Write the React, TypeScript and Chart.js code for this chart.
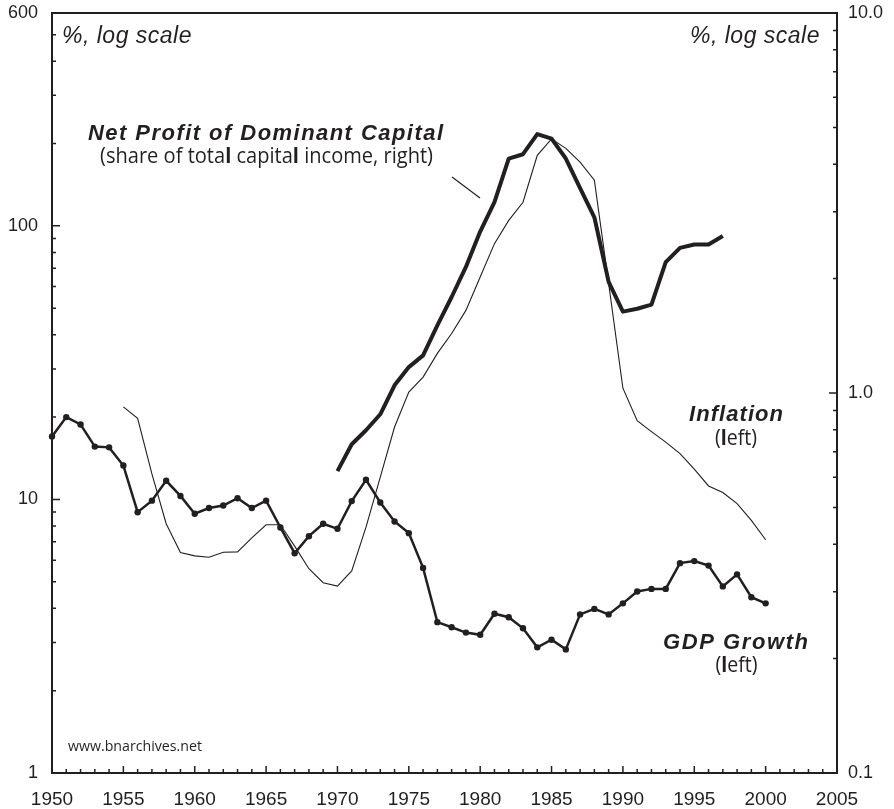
import React, { useEffect, useRef } from 'react';
import { Chart, registerables } from 'chart.js';

Chart.register(...registerables);

const INK = '#231f20';

// ---- data ----
const gdpStartYear = 1950;
const gdpGrowth = [
  17.0, 20.0, 18.8, 15.6, 15.5, 13.3, 8.98, 9.9, 11.7, 10.3,
  8.87, 9.3, 9.5, 10.1, 9.3, 9.9, 7.9, 6.36, 7.34, 8.15,
  7.81, 9.86, 11.8, 9.75, 8.31, 7.53, 5.62, 3.56, 3.41, 3.26,
  3.2, 3.82, 3.71, 3.38, 2.88, 3.07, 2.83, 3.8, 3.98, 3.8,
  4.17, 4.61, 4.71, 4.71, 5.85, 5.95, 5.73, 4.81, 5.32, 4.39, 4.17,
];

const inflationStartYear = 1955;
const inflation = [
  21.8, 19.8, 12.4, 8.15, 6.4,
  6.22, 6.15, 6.41, 6.43, 7.24, 8.08, 8.08, 6.75, 5.58, 4.96,
  4.82, 5.48, 7.92, 12.07, 18.4, 24.7, 28.0, 34.2, 40.4, 49.1,
  65.0, 86.1, 104.7, 122, 181, 208, 192, 171, 147, 61.6,
  25.5, 19.4, 17.7, 16.2, 14.7, 12.9, 11.2, 10.6, 9.65, 8.38, 7.12,
];

const profitStartYear = 1970;
const netProfitShare = [
  0.623, 0.733, 0.798, 0.879, 1.048, 1.17, 1.256, 1.507, 1.789, 2.146,
  2.66, 3.18, 4.14, 4.25, 4.8, 4.67, 4.14, 3.46, 2.9, 1.96,
  1.637, 1.666, 1.708, 2.21, 2.41, 2.46, 2.46, 2.59,
];

const xMin = 1950;
const xMax = 2005;
const leftMin = 1;
const leftMax = 600;
const rightMin = 0.1;
const rightMax = 10;
const leftTickValues = [
  1, 2, 3, 4, 5, 6, 7, 8, 9,
  10, 20, 30, 40, 50, 60, 70, 80, 90,
  100, 200, 300, 400, 500, 600,
];
const leftLabelValues = [1, 10, 100, 600];
const rightTickValues = [
  0.1, 0.2, 0.3, 0.4, 0.5, 0.6, 0.7, 0.8, 0.9,
  1, 2, 3, 4, 5, 6, 7, 8, 9, 10,
];
const rightLabelValues = [0.1, 1, 10];
const rightLabelTexts = ['0.1', '1.0', '10.0'];

const toPoints = (start: number, vals: number[]) =>
  vals.map((v, i) => ({ x: start + i, y: v }));

const isIn = (v: number, arr: number[]) => arr.some((a) => Math.abs(a - v) < 1e-9);

// ---- text helpers ----
function drawSpaced(ctx: CanvasRenderingContext2D, text: string, cx: number, y: number, font: string, target: number) {
  ctx.save();
  ctx.font = font;
  (ctx as any).letterSpacing = '0px';
  const w = ctx.measureText(text).width;
  ctx.textAlign = 'left';
  ctx.textBaseline = 'alphabetic';
  if (w > target) {
    ctx.fillText(text, cx - target / 2, y, target);
  } else {
    const ls = (target - w) / (text.length - 1);
    (ctx as any).letterSpacing = ls + 'px';
    ctx.fillText(text, cx - target / 2, y);
  }
  ctx.restore();
}

type Seg = { t: string; f: string };
function drawRich(ctx: CanvasRenderingContext2D, segs: Seg[], x: number, y: number, target: number | null, align: 'center' | 'left') {
  ctx.save();
  ctx.textAlign = 'left';
  ctx.textBaseline = 'alphabetic';
  let W = 0;
  const widths = segs.map((s) => {
    ctx.font = s.f;
    const w = ctx.measureText(s.t).width;
    W += w;
    return w;
  });
  const sc = target ? target / W : 1;
  const x0 = align === 'center' ? x - (W * sc) / 2 : x;
  ctx.translate(x0, y);
  ctx.scale(sc, 1);
  let off = 0;
  segs.forEach((s, i) => {
    ctx.font = s.f;
    ctx.fillText(s.t, off, 0);
    off += widths[i];
  });
  ctx.restore();
}

const frameAndTextPlugin = {
  id: 'frameAndText',
  afterDraw(chart: any) {
    const ctx: CanvasRenderingContext2D = chart.ctx;
    const { left, right, top, bottom } = chart.chartArea;
    const xs = chart.scales.x;
    const yl = chart.scales.y;
    const yr = chart.scales.y2;
    ctx.save();
    ctx.strokeStyle = INK;
    ctx.fillStyle = INK;
    ctx.lineCap = 'butt';

    // inward tick marks
    ctx.lineWidth = 1.5;
    ctx.beginPath();
    xs.ticks.forEach((t: any) => {
      const px = xs.getPixelForValue(t.value);
      const len = t.value % 5 === 0 ? 7 : 4;
      ctx.moveTo(px, bottom);
      ctx.lineTo(px, bottom - len);
    });
    yl.ticks.forEach((t: any) => {
      const py = yl.getPixelForValue(t.value);
      const len = isIn(t.value, leftLabelValues) ? 8 : 4;
      ctx.moveTo(left, py);
      ctx.lineTo(left + len, py);
    });
    yr.ticks.forEach((t: any) => {
      const py = yr.getPixelForValue(t.value);
      const len = isIn(t.value, rightLabelValues) ? 8 : 4;
      ctx.moveTo(right, py);
      ctx.lineTo(right - len, py);
    });
    ctx.stroke();

    // frame
    ctx.lineWidth = 2;
    ctx.strokeRect(left, top, right - left, bottom - top);

    // leader line
    ctx.lineWidth = 1.2;
    ctx.beginPath();
    ctx.moveTo(452, 177);
    ctx.lineTo(480, 198);
    ctx.stroke();

    // "%, log scale"
    ctx.font = 'italic 23px "Liberation Sans", Arial, sans-serif';
    (ctx as any).letterSpacing = '0.5px';
    ctx.textBaseline = 'alphabetic';
    ctx.textAlign = 'left';
    ctx.fillText('%, log scale', 62, 43);
    const w = ctx.measureText('%, log scale').width;
    ctx.fillText('%, log scale', 820 - w, 43);
    (ctx as any).letterSpacing = '0px';

    const bi = 'italic bold 22px "Liberation Sans", Arial, sans-serif';
    drawSpaced(ctx, 'Net Profit of Dominant Capital', 265.5, 140, bi, 355);
    drawSpaced(ctx, 'Inflation', 736, 421, bi, 94);
    drawSpaced(ctx, 'GDP Growth', 735.5, 649, bi, 145);

    const reg = '21px "Open Sans", sans-serif';
    const bold = 'bold 21px "Open Sans", sans-serif';
    drawRich(ctx, [
      { t: '(share of tota', f: reg },
      { t: 'l', f: bold },
      { t: ' capita', f: reg },
      { t: 'l', f: bold },
      { t: ' income, right)', f: reg },
    ], 266.5, 163, 333, 'center');

    const leftSegs = [
      { t: '(', f: reg },
      { t: 'l', f: bold },
      { t: 'eft)', f: reg },
    ];
    drawRich(ctx, leftSegs, 736, 445, 42, 'center');
    drawRich(ctx, leftSegs, 736.5, 672, 42, 'center');

    drawRich(ctx, [{ t: 'www.bnarchives.net', f: '15px "Open Sans", sans-serif' }], 68, 751, 134, 'left');

    ctx.restore();
  },
};

export default function App() {
  const ref = useRef<HTMLCanvasElement | null>(null);

  useEffect(() => {
    if (!ref.current) return;
    const chart = new Chart(ref.current, {
      type: 'line',
      data: {
        datasets: [
          {
            label: 'Net Profit of Dominant Capital',
            data: toPoints(profitStartYear, netProfitShare),
            yAxisID: 'y2',
            borderColor: INK,
            borderWidth: 4,
            pointRadius: 0,
            fill: false,
            tension: 0,
            borderJoinStyle: 'round',
          },
          {
            label: 'Inflation',
            data: toPoints(inflationStartYear, inflation),
            yAxisID: 'y',
            borderColor: INK,
            borderWidth: 1.1,
            pointRadius: 0,
            fill: false,
            tension: 0,
          },
          {
            label: 'GDP Growth',
            data: toPoints(gdpStartYear, gdpGrowth),
            yAxisID: 'y',
            borderColor: INK,
            backgroundColor: INK,
            borderWidth: 2.5,
            pointRadius: 3.2,
            pointBorderWidth: 0,
            pointBackgroundColor: INK,
            fill: false,
            tension: 0,
            clip: false,
          } as any,
        ],
      },
      options: {
        responsive: false,
        animation: false,
        devicePixelRatio: 1,
        layout: { padding: { top: 13, left: 0, right: 0, bottom: 0 } },
        plugins: { legend: { display: false }, tooltip: { enabled: false } },
        events: [],
        scales: {
          x: {
            type: 'linear',
            position: 'bottom',
            min: xMin,
            max: xMax,
            grid: { display: false, drawTicks: false },
            border: { display: false },
            ticks: {
              stepSize: 1,
              autoSkip: false,
              maxRotation: 0,
              padding: 15,
              color: INK,
              font: { family: '"Liberation Sans", Arial, sans-serif', size: 19 },
              callback: (v: any) => (Number(v) % 5 === 0 ? String(v) : ''),
            },
            afterFit: (s: any) => {
              s.height = 36;
              s.paddingLeft = 0;
              s.paddingRight = 0;
            },
          },
          y: {
            type: 'logarithmic',
            position: 'left',
            min: leftMin,
            max: leftMax,
            grid: { display: false, drawTicks: false },
            border: { display: false },
            afterBuildTicks: (s: any) => {
              s.ticks = leftTickValues.map((v) => ({ value: v }));
            },
            ticks: {
              autoSkip: false,
              padding: 14,
              color: INK,
              font: { family: '"Liberation Sans", Arial, sans-serif', size: 18 },
              callback: (v: any) => (isIn(Number(v), leftLabelValues) ? String(v) : ''),
            },
            afterFit: (s: any) => {
              s.width = 52;
              s.paddingTop = 0;
              s.paddingBottom = 0;
            },
          },
          y2: {
            type: 'logarithmic',
            position: 'right',
            min: rightMin,
            max: rightMax,
            grid: { display: false, drawTicks: false },
            border: { display: false },
            afterBuildTicks: (s: any) => {
              s.ticks = rightTickValues.map((v) => ({ value: v }));
            },
            ticks: {
              autoSkip: false,
              padding: 11,
              color: INK,
              font: { family: '"Liberation Sans", Arial, sans-serif', size: 18 },
              callback: (v: any) => {
                const i = rightLabelValues.findIndex((a) => Math.abs(a - Number(v)) < 1e-9);
                return i >= 0 ? rightLabelTexts[i] : '';
              },
            },
            afterFit: (s: any) => {
              s.width = 57;
              s.paddingTop = 0;
              s.paddingBottom = 0;
            },
          },
        },
      } as any,
      plugins: [frameAndTextPlugin],
    });
    return () => chart.destroy();
  }, []);

  return (
    <div style={{ position: 'absolute', left: 0, top: 0, width: 894, height: 809, background: '#fff' }}>
      <canvas ref={ref} width={894} height={809} style={{ display: 'block' }} />
    </div>
  );
}
